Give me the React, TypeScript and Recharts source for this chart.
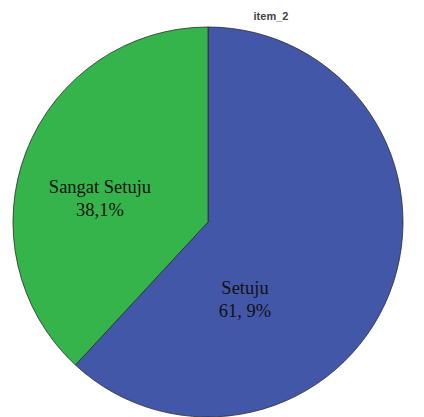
import React from 'react';
import { PieChart, Pie, Cell, Legend } from 'recharts';

const CATEGORIES = ['Setuju', 'Sangat Setuju'];
const VALUES = [61.9, 38.1];
const PERCENT_LABELS = ['61, 9%', '38,1%'];
const COLORS = ['#4357a9', '#34b44b'];
const LEGEND_COLORS = ['#3c4f86', '#3f8a50'];

const data = CATEGORIES.map((name, i) => ({ name, value: VALUES[i] }));

// label offsets relative to the pie centre (SPSS puts them off the mid angle)
const LABEL_OFFSETS = [
  { dx: 37, dy: 72 },
  { dx: -108, dy: -29 },
];

const renderLabel = (props: any) => {
  const { cx, cy, index } = props;
  const off = LABEL_OFFSETS[index];
  const x = cx + off.dx;
  const y = cy + off.dy;
  return (
    <text
      x={x}
      y={y}
      textAnchor="middle"
      fill="#111"
      style={{ fontFamily: '"Liberation Serif", "Times New Roman", serif', fontSize: 18.5 }}
    >
      <tspan x={x} dy={0}>{CATEGORIES[index]}</tspan>
      <tspan x={x} dy={22.5}>{PERCENT_LABELS[index]}</tspan>
    </text>
  );
};

export default function App() {
  return (
    <div
      style={{
        position: 'absolute',
        left: 0,
        top: 0,
        width: 424,
        height: 417,
        overflow: 'hidden',
        background: '#fff',
      }}
    >
      <div
        style={{
          position: 'absolute',
          left: 231,
          top: 10,
          width: 80,
          textAlign: 'center',
          fontFamily: '"Liberation Sans", Arial, sans-serif',
          fontSize: 11,
          fontWeight: 'bold',
          color: '#444',
          zIndex: 2,
        }}
      >
        item_2
      </div>
      <PieChart width={424} height={417} margin={{ top: 0, right: 0, bottom: 0, left: 0 }}>
        <Pie
          data={data}
          dataKey="value"
          nameKey="name"
          cx={208}
          cy={222}
          outerRadius={195}
          startAngle={90}
          endAngle={-270}
          stroke="#2b2b2b"
          strokeWidth={0.8}
          label={renderLabel}
          labelLine={false}
          isAnimationActive={false}
        >
          {data.map((d, i) => (
            <Cell key={d.name} fill={COLORS[i]} />
          ))}
        </Pie>
        <Legend
          layout="vertical"
          align="right"
          verticalAlign="top"
          content={() => (
            <div style={{ position: 'absolute', left: 406, top: 33 }}>
              {CATEGORIES.map((c, i) => (
                <div key={c} style={{ display: 'flex', alignItems: 'center', height: 8.5, whiteSpace: 'nowrap' }}>
                  <span style={{ width: 7, height: 7, background: LEGEND_COLORS[i], display: 'inline-block' }} />
                  <span style={{ marginLeft: 4, fontSize: 8, color: '#999', fontFamily: 'Arial, sans-serif' }}>{c}</span>
                </div>
              ))}
            </div>
          )}
        />
      </PieChart>
    </div>
  );
}
